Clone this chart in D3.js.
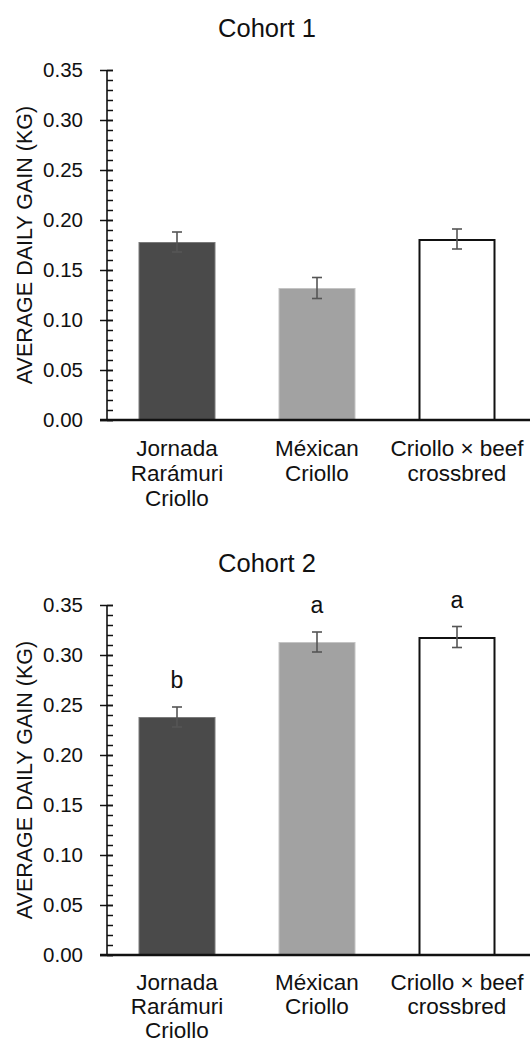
<!DOCTYPE html>
<html>
<head>
<meta charset="utf-8">
<script src="https://cdn.jsdelivr.net/npm/d3@7"></script>
<style>
  html, body { margin: 0; padding: 0; background: #fff; }
  text { font-family: "Liberation Sans", Arial, Helvetica, sans-serif; fill: #111; }
</style>
</head>
<body>
<svg id="chart" width="530" height="1042"></svg>
<script>
const categories = [["Jornada", "Rarámuri", "Criollo"], ["Méxican", "Criollo"], ["Criollo × beef", "crossbred"]];
const titles = ["Cohort 1", "Cohort 2"];
const cohort1Values = [0.178, 0.132, 0.181];
const cohort1SE = [0.010, 0.0105, 0.010];
const cohort2Values = [0.238, 0.313, 0.318];
const cohort2SE = [0.010, 0.010, 0.0105];
const cohort2Letters = ["b", "a", "a"];
const cohort1Letters = ["", "", ""];
const yTicks = [0, 0.05, 0.10, 0.15, 0.20, 0.25, 0.30, 0.35];
const yLabel = "AVERAGE DAILY GAIN (KG)";

const fills = ["#4a4a4a", "#a2a2a2", "#ffffff"];
const strokes = ["#7a7a7a", "#c4c4c4", "#111111"];
const strokeW = [1, 1, 2];

const svg = d3.select("#chart");
const panels = [
  { title: titles[0], values: cohort1Values, se: cohort1SE, letters: cohort1Letters, top: 70, bottom: 420, titleY: 37, labOff: 36, labGap: 25 },
  { title: titles[1], values: cohort2Values, se: cohort2SE, letters: cohort2Letters, top: 605, bottom: 955, titleY: 572, labOff: 35, labGap: 24 }
];

const axisX = 107;
const x = d3.scaleBand().domain(d3.range(categories.length)).range([axisX, 527]).paddingInner(0.45).paddingOuter(0.225);

panels.forEach(p => {
  const g = svg.append("g");
  const y = d3.scaleLinear().domain([0, 0.35]).range([p.bottom, p.top]);

  g.append("text").attr("x", 267).attr("y", p.titleY).attr("text-anchor", "middle")
    .style("font-size", "25.5px").text(p.title);

  // bars
  p.values.forEach((v, i) => {
    const sw = strokeW[i];
    g.append("rect")
      .attr("x", x(i) + sw / 2).attr("y", y(v) + sw / 2)
      .attr("width", x.bandwidth() - sw).attr("height", y(0) - y(v) - sw / 2)
      .attr("fill", fills[i]).attr("stroke", strokes[i]).attr("stroke-width", sw);
  });

  // error bars
  p.values.forEach((v, i) => {
    const cx = x(i) + x.bandwidth() / 2;
    const hi = y(v + p.se[i]), lo = y(v - p.se[i]);
    const eg = g.append("g").attr("stroke", "#555").attr("stroke-width", 1.6);
    eg.append("line").attr("x1", cx).attr("x2", cx).attr("y1", hi).attr("y2", lo);
    eg.append("line").attr("x1", cx - 5).attr("x2", cx + 5).attr("y1", hi).attr("y2", hi);
    eg.append("line").attr("x1", cx - 5).attr("x2", cx + 5).attr("y1", lo).attr("y2", lo);
    if (p.letters[i]) {
      g.append("text").attr("x", cx).attr("y", hi - 19).attr("text-anchor", "middle")
        .style("font-size", "23px").text(p.letters[i]);
    }
  });

  // y axis minor ticks
  const minor = d3.range(0, 36).map(k => k / 100);
  const minorAxis = d3.axisRight(y).tickValues(minor).tickSize(6).tickFormat("");
  const mg = g.append("g").attr("transform", `translate(${axisX},0)`).call(minorAxis);
  mg.select(".domain").remove();
  mg.selectAll(".tick line").attr("stroke", "#111").attr("stroke-width", 1.5);

  // y axis major
  const majorAxis = d3.axisLeft(y).tickValues(yTicks).tickSize(13).tickPadding(4)
    .tickFormat(d3.format(".2f"));
  const ag = g.append("g").attr("transform", `translate(${axisX + 6},0)`).call(majorAxis);
  ag.select(".domain").remove();
  ag.selectAll(".tick line").attr("stroke", "#111").attr("stroke-width", 1.5);
  ag.selectAll(".tick text").attr("x", -30).style("font-size", "20.5px")
    .style("font-family", '"Liberation Sans", Arial, sans-serif').attr("fill", "#111");

  g.append("line").attr("x1", axisX).attr("x2", axisX).attr("y1", y(0.35)).attr("y2", y(0))
    .attr("stroke", "#111").attr("stroke-width", 1.6);

  // x axis
  g.append("line").attr("x1", 100).attr("x2", 530).attr("y1", y(0)).attr("y2", y(0))
    .attr("stroke", "#111").attr("stroke-width", 2.6);

  // x labels
  categories.forEach((lines, i) => {
    const cx = x(i) + x.bandwidth() / 2;
    const t = g.append("text").attr("text-anchor", "middle").style("font-size", "22.5px");
    lines.forEach((ln, j) => {
      t.append("tspan").attr("x", cx).attr("y", p.bottom + p.labOff + j * p.labGap).text(ln);
    });
  });

  // y label
  g.append("text").attr("transform", `translate(32,${(p.top + p.bottom) / 2}) rotate(-90)`)
    .attr("text-anchor", "middle").style("font-size", "21.5px").text(yLabel);
});
</script>
</body>
</html>
